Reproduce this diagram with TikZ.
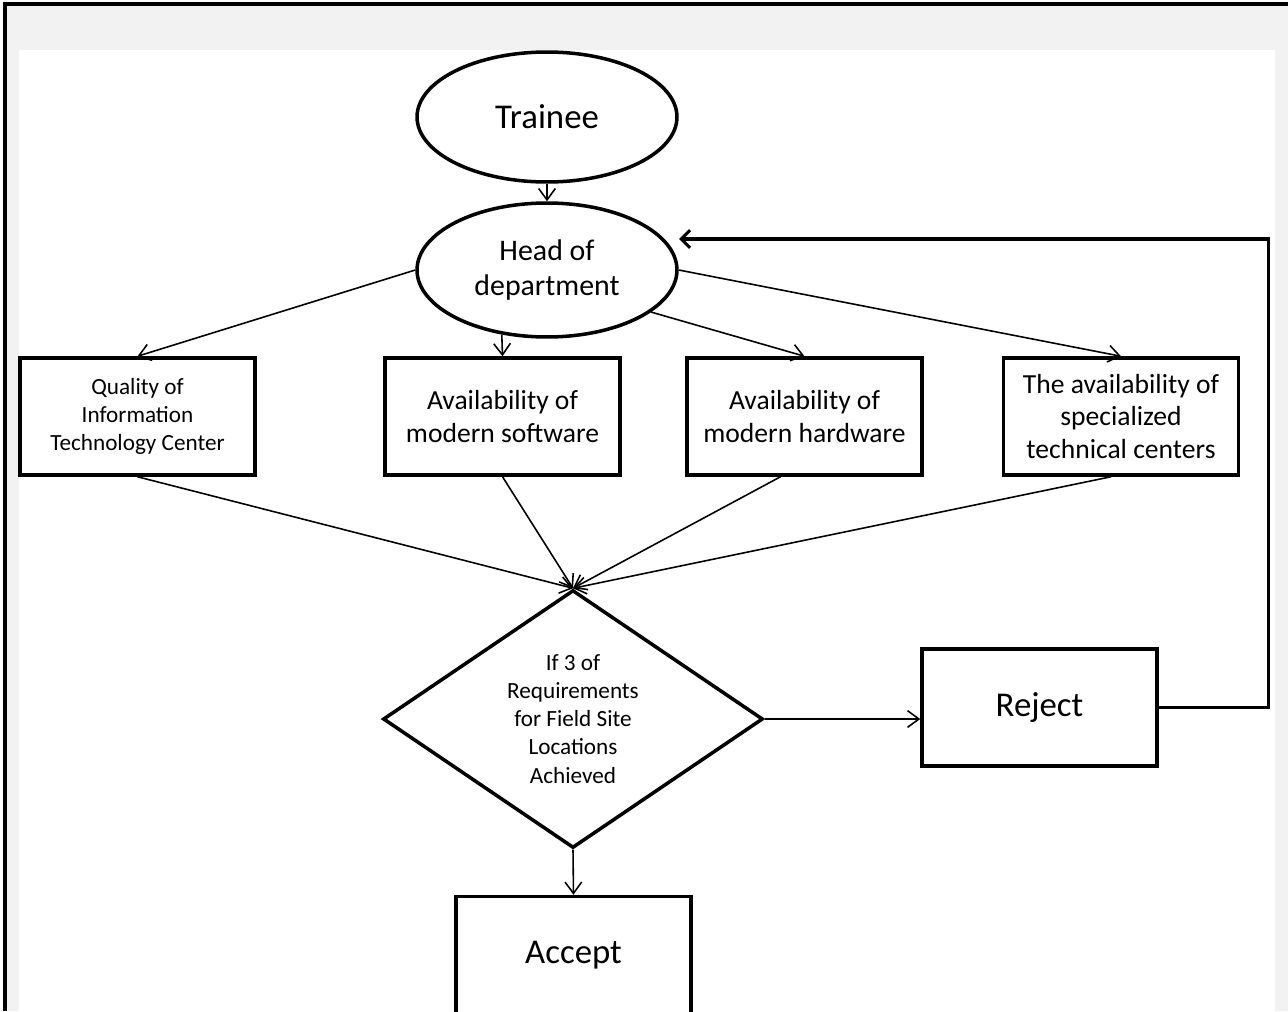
\documentclass[tikz,border=0pt]{standalone}
\usepackage{fontspec}
\setmainfont{Carlito}
\usetikzlibrary{shapes.geometric,arrows.meta}
\definecolor{pagegray}{HTML}{F2F2F2}
\begin{document}
\begin{tikzpicture}[x=0.02cm,y=-0.02cm,
    oval/.style={ellipse,draw,line width=2pt,minimum width=5.2cm,inner sep=0pt,align=center},
    block/.style={rectangle,draw,line width=2pt,minimum width=4.7cm,minimum height=2.34cm,align=center,inner sep=2pt},
    choice/.style={diamond,draw,line width=2pt,minimum width=7.6cm,minimum height=5.16cm,aspect=1.47,align=center,inner sep=0pt},
    big/.style={font=\fontsize{19.8}{24}\selectfont},
    mid/.style={font=\fontsize{15.7}{18.6}\selectfont},
    small/.style={font=\fontsize{13.2}{16}\selectfont},
    arr/.style={line width=0.9pt,-{Straight Barb[length=6.5pt,width=9.5pt]}},
    loopback/.style={line width=1.8pt,-{Straight Barb[length=5pt,width=10pt]}}]
    \clip (0,0) rectangle (1288,1011);
    \fill[pagegray] (5,4) rectangle (1288,1011);
    \draw[line width=1.8pt] (5,1011) -- (5,4) -- (1288,4);
    \fill[white] (19,50) rectangle (1275,1011);
    \node[oval,big,minimum height=2.6cm] (trainee) at (547,117) {Trainee};
    \node[oval,minimum height=2.68cm,font=\fontsize{17}{20.4}\selectfont] (head) at (547,270) {Head of\\department};
    \node[block,small] (itc) at (137.5,416.5) {Quality of\\Information\\Technology Center};
    \node[block,mid] (soft) at (502.5,416.5) {Availability of\\modern software};
    \node[block,mid] (hard) at (804.5,416.5) {Availability of\\modern hardware};
    \node[block,mid] (centers) at (1121,416.5) {The availability of\\specialized\\technical centers};
    \node[choice,small] (check) at (573,719) {If 3 of\\Requirements\\for Field Site\\Locations\\Achieved};
    \node[block,big] (reject) at (1039.5,707.5) {\raisebox{-1.5pt}{Reject}};
    \node[block,big] (accept) at (573.5,955) {\raisebox{-1.5pt}{Accept}};
    \coordinate (backend) at (679,239);
    \draw[arr] (trainee.south) -- (head.north);
    \draw[arr] (head.west) -- (itc.north);
    \draw[arr] (head.235) -- (soft.north);
    \draw[arr] (head.338) -- (hard.north);
    \draw[arr] (head.east) -- (centers.north);
    \draw[arr] (itc.south) -- (check.north);
    \draw[arr] (soft.south) -- (check.north);
    \draw[arr] ([xshift=-0.48cm]hard.south) -- (check.north);
    \draw[arr] ([xshift=-0.2cm]centers.south) -- (check.north);
    \draw[arr] (check.east) -- (check.east -| reject.west);
    \draw[arr] (check.south) -- (accept.north);
    \draw[loopback] (reject.east) -- ++(110,0) |- (backend);
\end{tikzpicture}
\end{document}
